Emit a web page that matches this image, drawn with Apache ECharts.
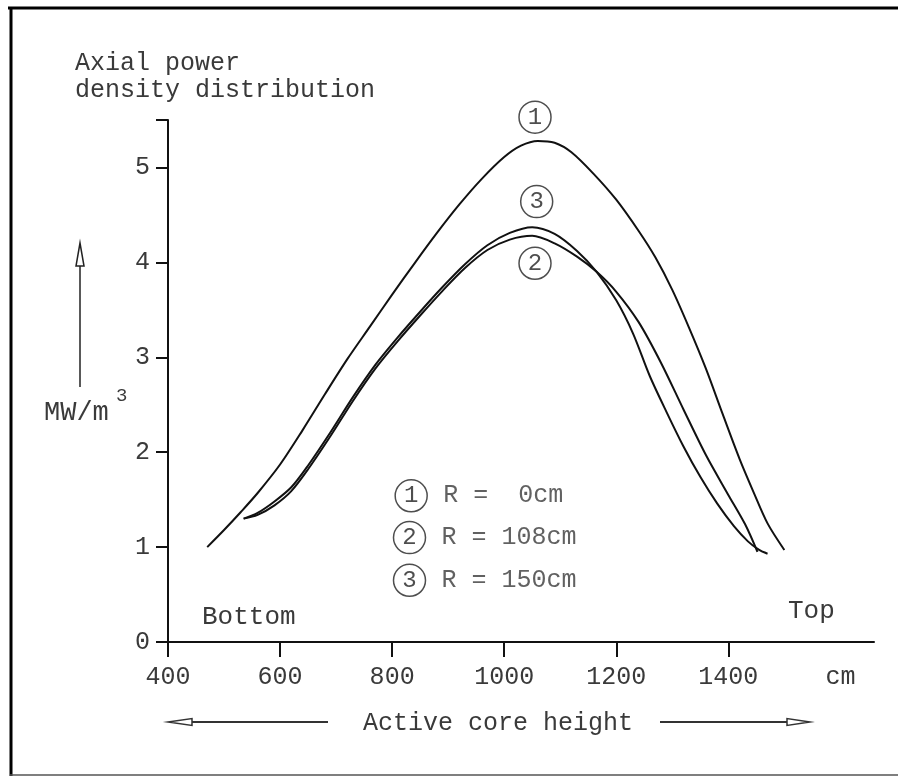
<!DOCTYPE html>
<html>
<head>
<meta charset="utf-8">
<script src="https://cdn.jsdelivr.net/npm/echarts@6/dist/echarts.min.js"></script>
<style>
html,body{margin:0;padding:0;background:#fff;}
#chart{width:898px;height:776px;}
</style>
</head>
<body>
<div id="chart"></div>
<script>
// ---- data ----
const xTickValues = [400, 600, 800, 1000, 1200, 1400];
const xLabelValues = [400, 600, 800, 1000, 1200, 1400, 1600];
const xUnitLabel = 'cm';

// Curve 1: R = 0 cm
const r0X = [470,500,530,560,600,640,680,720,760,800,840,880,920,960,1000,1030,1060,1090,1120,1160,1200,1240,1270,1300,1330,1360,1390,1420,1445,1470,1500];
const r0Y = [1.00,1.18,1.37,1.57,1.87,2.23,2.61,2.98,3.32,3.66,3.99,4.31,4.61,4.88,5.11,5.23,5.28,5.26,5.16,4.93,4.66,4.33,4.05,3.71,3.31,2.88,2.40,1.93,1.58,1.25,0.97];

// Curve 2: R = 108 cm
const r108X = [535,560,590,620,650,690,730,770,810,850,890,930,970,1010,1050,1090,1130,1165,1200,1240,1280,1320,1360,1400,1430,1452];
const r108Y = [1.30,1.34,1.44,1.59,1.82,2.17,2.54,2.88,3.17,3.44,3.70,3.94,4.13,4.24,4.28,4.20,4.06,3.90,3.69,3.37,2.94,2.45,1.97,1.55,1.24,0.95];

// Curve 3: R = 150 cm
const r150X = [535,560,590,620,650,690,730,770,810,850,890,930,970,1010,1050,1090,1130,1165,1200,1230,1260,1290,1320,1350,1380,1410,1435,1455,1470];
const r150Y = [1.30,1.36,1.48,1.63,1.86,2.21,2.58,2.92,3.21,3.48,3.74,3.98,4.18,4.31,4.37,4.30,4.12,3.90,3.60,3.25,2.80,2.42,2.06,1.74,1.46,1.22,1.06,0.97,0.93];

// circled curve labels (data coordinates)
const calloutText = ['1', '3', '2'];
const calloutX = [1055, 1058, 1055];
const calloutY = [5.53, 4.64, 3.99];

// key (circled numbers + radius text)
const keyText = ['1', '2', '3'];
const keyLabel = ['R =  0cm', 'R = 108cm', 'R = 150cm'];
const keyX = [834, 831, 831];
const keyY = [1.54, 1.10, 0.65];

const FONT = '"Liberation Mono", "DejaVu Sans Mono", monospace';
const TXT = '#3a3a3a';

function pairs(xs, ys) { return xs.map((x, i) => [x, ys[i]]); }

const chart = echarts.init(document.getElementById('chart'), null, {renderer: 'canvas'});

const lineStyle = {color: '#111', width: 2};
function curve(name, xs, ys) {
  return {
    name: name, type: 'line', data: pairs(xs, ys), smooth: 0.3,
    showSymbol: false, symbol: 'none', lineStyle: lineStyle, z: 3, clip: false
  };
}

function txt(text, x, y, size) {
  return {
    type: 'text', x: x, y: y, silent: true,
    style: {text: text, font: size + 'px ' + FONT, fill: TXT,
      textAlign: 'left', align: 'left', textVerticalAlign: 'middle', verticalAlign: 'middle'}
  };
}

const circleStyle = {color: '#fff', borderColor: '#222', borderWidth: 1.5};
const circleLabel = {show: true, position: 'inside', fontFamily: FONT, fontSize: 24, color: '#222'};

const option = {
  backgroundColor: '#fff',
  animation: false,
  grid: {left: 168, right: 24, top: 120, bottom: 134, containLabel: false},
  xAxis: {
    type: 'value', min: 400, max: 1660,
    axisLine: {show: true, lineStyle: {color: '#111', width: 2}},
    axisTick: {show: true, length: 15, lineStyle: {color: '#111', width: 2}, customValues: xTickValues},
    axisLabel: {
      customValues: xLabelValues, margin: 23,
      fontFamily: FONT, fontSize: 25, color: TXT,
      formatter: v => (v === 1600 ? xUnitLabel : String(v))
    },
    splitLine: {show: false}
  },
  yAxis: {
    type: 'value', min: 0, max: 5.5, interval: 1,
    axisLine: {show: true, lineStyle: {color: '#111', width: 2}},
    axisTick: {show: true, length: 12, lineStyle: {color: '#111', width: 2}},
    axisLabel: {margin: 18, fontFamily: FONT, fontSize: 25, color: TXT,
      formatter: v => (Number.isInteger(v) ? String(v) : '')},
    splitLine: {show: false}
  },
  series: [
    curve('R = 0cm', r0X, r0Y),
    curve('R = 108cm', r108X, r108Y),
    curve('R = 150cm', r150X, r150Y),
    {
      type: 'scatter', clip: false, z: 5,
      data: calloutX.map((x, i) => ({value: [x, calloutY[i]], label: {formatter: calloutText[i]}})),
      symbol: 'circle', symbolSize: 32,
      itemStyle: circleStyle, label: circleLabel
    },
    {
      type: 'scatter', clip: false, z: 5,
      data: keyX.map((x, i) => ({value: [x, keyY[i]], label: {formatter: keyText[i]}})),
      symbol: 'circle', symbolSize: 32,
      itemStyle: circleStyle, label: circleLabel
    },
    {
      type: 'scatter', clip: false, z: 5, symbolSize: 0,
      data: keyX.map((x, i) => ({value: [x, keyY[i]], label: {formatter: keyLabel[i]}})),
      itemStyle: {color: 'transparent'},
      label: {show: true, position: 'right', distance: 32, fontFamily: FONT, fontSize: 25, color: TXT}
    }
  ],
  graphic: [
    // frame
    {type: 'line', shape: {x1: 8, y1: 8, x2: 898, y2: 8}, style: {stroke: '#000', lineWidth: 3}},
    {type: 'line', shape: {x1: 11, y1: 7, x2: 11, y2: 776}, style: {stroke: '#000', lineWidth: 3}},
    {type: 'line', shape: {x1: 10, y1: 775, x2: 898, y2: 775}, style: {stroke: '#555', lineWidth: 1.5}},
    // y title
    txt('Axial power', 75, 63, 25),
    txt('density distribution', 75, 90, 25),
    txt('MW/m', 44, 413, 27),
    txt('3', 116, 396, 19),
    // up arrow
    {type: 'line', shape: {x1: 80, y1: 387, x2: 80, y2: 246}, style: {stroke: '#222', lineWidth: 1.5}},
    {type: 'polygon', shape: {points: [[80, 243], [76, 266], [84, 266]]}, style: {fill: '#fff', stroke: '#222', lineWidth: 1.5}},
    // x notes
    txt('Bottom', 202, 617, 26),
    txt('Top', 788, 611, 26),
    txt('Active core height', 363, 723, 25),
    // left arrow
    {type: 'line', shape: {x1: 190, y1: 722, x2: 328, y2: 722}, style: {stroke: '#333', lineWidth: 2}},
    {type: 'polygon', shape: {points: [[168, 722], [192, 718.5], [192, 725.5]]}, style: {fill: '#fff', stroke: '#333', lineWidth: 1.5}},
    // right arrow
    {type: 'line', shape: {x1: 660, y1: 722, x2: 789, y2: 722}, style: {stroke: '#333', lineWidth: 2}},
    {type: 'polygon', shape: {points: [[810, 722], [787, 718.5], [787, 725.5]]}, style: {fill: '#fff', stroke: '#333', lineWidth: 1.5}}
  ]
};
chart.setOption(option);
</script>
</body>
</html>
